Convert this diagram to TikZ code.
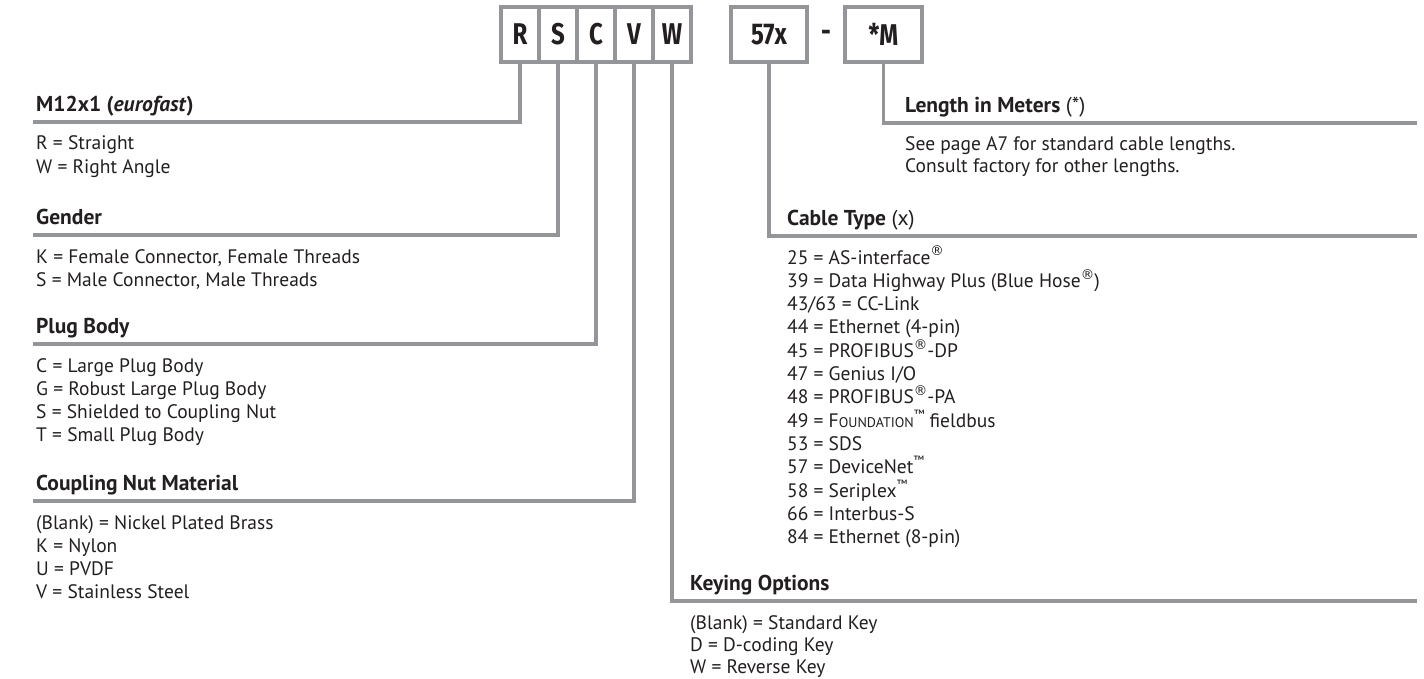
\documentclass[tikz,border=0pt]{standalone}
\usepackage{fontspec}
\setmainfont{PT Sans}
\newfontfamily\boxfont{Fira Sans}
\newfontfamily\symfont{DejaVu Sans}
\definecolor{ln}{HTML}{939598}
\definecolor{tx}{HTML}{231F20}
\newcommand\regm{\raisebox{0.42em}{\symfont\fontsize{13.5}{13.5}\selectfont ®}}
\newcommand\tmk{\raisebox{0.45em}{\fontsize{12}{12}\selectfont ™}}
\newcommand\fsc{F{\fontsize{14}{14}\selectfont OUNDATION}}
\tikzset{
  lnk/.style={draw=ln, line width=3.3pt, line join=miter},
  cbox/.style={draw=ln, line width=3.3pt, fill=white, inner sep=0pt,
    minimum width=38pt, minimum height=55pt, text=tx,
    font=\boxfont\bfseries\fontsize{30}{30}\selectfont},
  dashsym/.style={inner sep=0pt, text=tx, font=\boxfont\bfseries\fontsize{30}{30}\selectfont},
  hd/.style={anchor=base west, inner sep=0pt, text=tx, font=\bfseries\fontsize{21.5}{24}\selectfont},
  ent/.style={anchor=base west, inner sep=0pt, text=tx, font=\fontsize{19.5}{22}\selectfont}
}
\begin{document}
\begin{tikzpicture}[x=1pt,y=-1pt]
\useasboundingbox (0,0) rectangle (1424,679);
% code boxes
\node[cbox] (bR) at (520,34.5) {\scalebox{0.8}[1]{R}};
\node[cbox] (bS) at (558,34.5) {\scalebox{0.8}[1]{S}};
\node[cbox] (bC) at (596,34.5) {\scalebox{0.8}[1]{C}};
\node[cbox] (bV) at (634,34.5) {\scalebox{0.8}[1]{V}};
\node[cbox] (bW) at (672,34.5) {\scalebox{0.8}[1]{W}};
\node[cbox, minimum width=76pt] (b57) at (769,34.5) {\scalebox{0.8}[1]{57x}};
\node[dashsym] (bdash) at (826,36) {\scalebox{0.8}[1]{-}};
\node[cbox, minimum width=77pt] (bM) at (883.5,34.5) {\scalebox{0.8}[1]{*M}};
% connector ends
\coordinate (m12L) at (33,122);
\coordinate (genL) at (33,235);
\coordinate (plugL) at (33,344);
\coordinate (coupL) at (33,501);
\coordinate (keyR) at (1417,601);
\coordinate (cabR) at (1417,236);
\coordinate (lenR) at (1417,123);
\draw[lnk] (bR.south) |- (m12L);
\draw[lnk] (bS.south) |- (genL);
\draw[lnk] (bC.south) |- (plugL);
\draw[lnk] (bV.south) |- (coupL);
\draw[lnk] (bW.south) |- (keyR);
\draw[lnk] (b57.south) |- (cabR);
\draw[lnk] (bM.south) |- (lenR);
% headings
\node[hd] (hM12) at (36,111.5) {M12x1 (\textit{eurofast})};
\node[hd] (hGen) at (36,224.5) {Gender};
\node[hd] (hPlug) at (36,333.5) {Plug Body};
\node[hd] (hCoup) at (36,490.5) {Coupling Nut Material};
\node[hd] (hLen) at (905,112.5) {Length in Meters \textmd{(*)}};
\node[hd] (hCab) at (787,225.5) {Cable Type \textmd{(x)}};
\node[hd] (hKey) at (690,590.5) {Keying Options};
% entries
\foreach \t [count=\i] in {{R = Straight},{W = Right Angle}}
  \node[ent] (eM12-\i) at (36,{150+(\i-1)*23.3}) {\t};
\foreach \t [count=\i] in {{K = Female Connector, Female Threads},{S = Male Connector, Male Threads}}
  \node[ent] (eGen-\i) at (36,{263+(\i-1)*23.3}) {\t};
\foreach \t [count=\i] in {{C = Large Plug Body},{G = Robust Large Plug Body},{S = Shielded to Coupling Nut},{T = Small Plug Body}}
  \node[ent] (ePlug-\i) at (36,{372+(\i-1)*23.3}) {\t};
\foreach \t [count=\i] in {{(Blank) = Nickel Plated Brass},{K = Nylon},{U = PVDF},{V = Stainless Steel}}
  \node[ent] (eCoup-\i) at (36,{529+(\i-1)*23.3}) {\t};
\foreach \t [count=\i] in {{See page A7 for standard cable lengths.},{Consult factory for other lengths.}}
  \node[ent] (eLen-\i) at (905,{151+(\i-1)*22}) {\t};
\foreach \t [count=\i] in {{25 = AS-interface\regm},{39 = Data Highway Plus (Blue Hose\regm)},{43/63 = CC-Link},{44 = Ethernet (4-pin)},{45 = PROFIBUS\regm-DP},{47 = Genius I/O},{48 = PROFIBUS\regm-PA},{49 = \fsc\tmk\ fieldbus},{53 = SDS},{57 = DeviceNet\tmk},{58 = Seriplex\tmk},{66 = Interbus-S},{84 = Ethernet (8-pin)}}
  \node[ent] (eCab-\i) at (787,{264+(\i-1)*23.3}) {\t};
\foreach \t [count=\i] in {{(Blank) = Standard Key},{D = D-coding Key},{W = Reverse Key}}
  \node[ent] (eKey-\i) at (690,{629+(\i-1)*22}) {\t};
\end{tikzpicture}
\end{document}
